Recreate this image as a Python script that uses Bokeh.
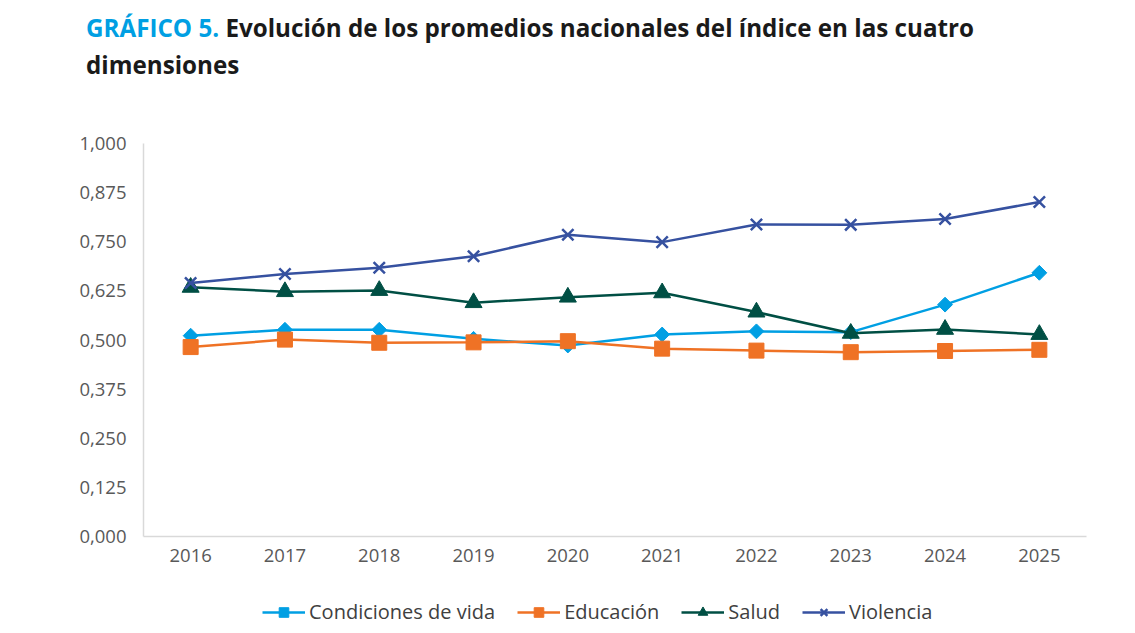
from bokeh.plotting import figure
from bokeh.models import Legend, LegendItem, FixedTicker, Range1d, Div
from bokeh.layouts import column
from bokeh.embed import file_html
from bokeh.resources import INLINE

years = [2016, 2017, 2018, 2019, 2020, 2021, 2022, 2023, 2024, 2025]
condiciones = [0.511, 0.526, 0.526, 0.503, 0.486, 0.514, 0.522, 0.520, 0.590, 0.671]
educacion = [0.482, 0.501, 0.493, 0.494, 0.497, 0.478, 0.473, 0.469, 0.472, 0.475]
salud = [0.634, 0.623, 0.626, 0.595, 0.609, 0.620, 0.571, 0.517, 0.527, 0.514]
violencia = [0.645, 0.668, 0.684, 0.713, 0.768, 0.749, 0.794, 0.793, 0.808, 0.851]
y_ticks = [0.0, 0.125, 0.25, 0.375, 0.5, 0.625, 0.75, 0.875, 1.0]
y_tick_labels = ["0,000", "0,125", "0,250", "0,375", "0,500", "0,625", "0,750", "0,875", "1,000"]
series_names = ["Condiciones de vida", "Educación", "Salud", "Violencia"]
title_prefix = "GRÁFICO 5."
title_line1 = "Evolución de los promedios nacionales del índice en las cuatro"
title_line2 = "dimensiones"

FONT = "Open Sans"
colors = ["#009fe3", "#ef7225", "#004f44", "#3651a0"]
series = [condiciones, educacion, salud, violencia]
W = 1119
TH = 120
LH = 40
BL, BR = 143, 33

title = Div(text=(f'<div style="font-family:\'{FONT}\';font-weight:bold;font-size:24.2px;'
                  f'line-height:37px;color:#1a1a1a;padding:9px 0 0 86px;white-space:nowrap;">'
                  f'<span style="color:#009fe3">{title_prefix}</span> {title_line1}<br>{title_line2}</div>'),
            width=W, height=TH, margin=(0, 0, 0, 0))


def draw_series(fig):
    rs = []
    r = fig.line(years, series[0], line_color=colors[0], line_width=2.5)
    m = fig.scatter(years, series[0], marker="square", angle=0.7854, size=10.5,
                    fill_color=colors[0], line_color=colors[0])
    rs.append([r, m])
    r = fig.line(years, series[1], line_color=colors[1], line_width=2.5)
    m = fig.scatter(years, series[1], marker="square", size=15, fill_color=colors[1], line_color=colors[1])
    rs.append([r, m])
    r = fig.line(years, series[2], line_color=colors[2], line_width=2.5)
    m = fig.scatter(years, series[2], marker="triangle", size=17, fill_color=colors[2], line_color=colors[2])
    rs.append([r, m])
    r = fig.line(years, series[3], line_color=colors[3], line_width=2.5)
    m = fig.scatter(years, series[3], marker="x", size=16, line_color=colors[3], line_width=2.5)
    rs.append([r, m])
    return rs


# ---- chart ----
p = figure(width=W, height=625 - TH - LH, output_backend="svg", toolbar_location=None,
           x_range=Range1d(2015.5, 2025.5), y_range=Range1d(0, 1),
           min_border_left=BL, min_border_right=BR, min_border_top=23, min_border_bottom=49,
           margin=(0, 0, 0, 0))
p.outline_line_color = None
p.xgrid.grid_line_color = None
p.ygrid.grid_line_color = None

p.yaxis.ticker = FixedTicker(ticks=y_ticks)
p.yaxis.major_label_overrides = {t: l for t, l in zip(y_ticks, y_tick_labels)}
p.xaxis.ticker = FixedTicker(ticks=years)
p.xaxis.major_label_overrides = {y: str(y) for y in years}
for ax in (p.xaxis[0], p.yaxis[0]):
    ax.axis_line_color = "#d9d9d9"
    ax.axis_line_width = 1.5
    ax.major_tick_line_color = None
    ax.minor_tick_line_color = None
    ax.major_label_text_font = FONT
    ax.major_label_text_font_size = "18.5px"
    ax.major_label_text_color = "#595959"
p.yaxis.major_label_standoff = 11
p.xaxis.major_label_standoff = 6
draw_series(p)

# ---- legend strip (same series, drawn outside its visible range) ----
lp = figure(width=W, height=LH, output_backend="svg", toolbar_location=None,
            x_range=Range1d(0, 1), y_range=Range1d(0, 1),
            min_border_left=BL, min_border_right=BR, min_border_top=0, min_border_bottom=0,
            margin=(0, 0, 0, 0))
lp.axis.visible = False
lp.grid.visible = False
lp.outline_line_color = None
lrs = draw_series(lp)
legend = Legend(items=[LegendItem(label=n, renderers=rr) for n, rr in zip(series_names, lrs)],
                orientation="horizontal", location=(119, 0),
                border_line_color=None, background_fill_alpha=0,
                label_text_font=FONT, label_text_font_size="20px", label_text_color="#404040",
                glyph_width=43, glyph_height=24, label_standoff=4, spacing=22,
                padding=0, margin=0)
lp.add_layout(legend, "center")

layout = column(title, p, lp, spacing=0)
open("out.html", "w").write(file_html(layout, INLINE))
